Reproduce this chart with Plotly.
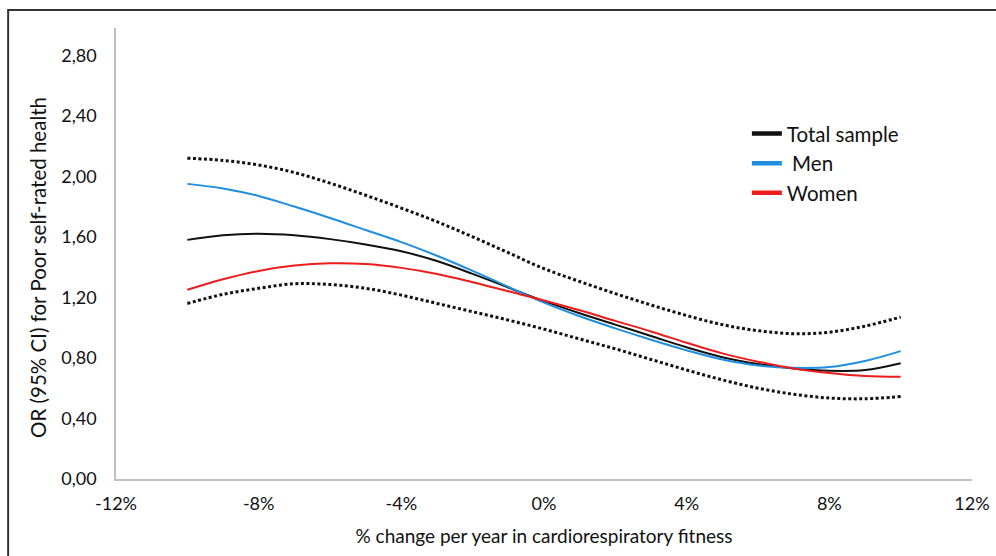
import plotly.graph_objects as go

x_pct = [-10, -9, -8, -7, -6, -5, -4, -3, -2, -1, 0, 1, 2, 3, 4, 5, 6, 7, 8, 9, 10]
ci_upper = [2.12, 2.105, 2.075, 2.025, 1.955, 1.875, 1.79, 1.70, 1.60, 1.495, 1.39, 1.305, 1.225, 1.15, 1.08, 1.02, 0.98, 0.96, 0.97, 1.01, 1.07]
ci_lower = [1.16, 1.22, 1.26, 1.29, 1.285, 1.26, 1.215, 1.16, 1.105, 1.05, 0.99, 0.925, 0.86, 0.79, 0.72, 0.655, 0.60, 0.56, 0.535, 0.53, 0.545]
total = [1.58, 1.61, 1.62, 1.61, 1.585, 1.55, 1.505, 1.44, 1.355, 1.265, 1.175, 1.095, 1.02, 0.945, 0.87, 0.805, 0.76, 0.73, 0.715, 0.72, 0.765]
men = [1.95, 1.92, 1.87, 1.80, 1.725, 1.645, 1.565, 1.475, 1.375, 1.27, 1.165, 1.075, 0.995, 0.92, 0.85, 0.79, 0.75, 0.735, 0.74, 0.78, 0.845]
women = [1.25, 1.32, 1.375, 1.41, 1.425, 1.42, 1.395, 1.355, 1.30, 1.24, 1.18, 1.115, 1.045, 0.975, 0.90, 0.83, 0.775, 0.73, 0.70, 0.68, 0.675]

series_names = ["Total sample", " Men", "Women"]
series_colors = ["#111111", "#1f8ee0", "#ee1c1c"]

x_ticks = [-12, -8, -4, 0, 4, 8, 12]
x_ticktext = ["-12%", "-8%", "-4%", "0%", "4%", "8%", "12%"]
y_ticks = [0, 0.4, 0.8, 1.2, 1.6, 2.0, 2.4, 2.8]
y_ticktext = ["0,00", "0,40", "0,80", "1,20", "1,60", "2,00", "2,40", "2,80"]

FONT = "Lato, 'Open Sans', sans-serif"

fig = go.Figure()
for ci in (ci_upper, ci_lower):
    fig.add_trace(go.Scatter(x=x_pct, y=ci, mode="lines", showlegend=False,
                             line=dict(color="#111111", width=3, dash="3px,2.5px", shape="spline")))
for ys, nm, col in zip((total, men, women), series_names, series_colors):
    fig.add_trace(go.Scatter(x=x_pct, y=ys, mode="lines", showlegend=False,
                             line=dict(color=col, width=2, shape="spline")))
# legend entries (thicker symbols as in the reference)
for nm, col in zip(series_names, series_colors):
    fig.add_trace(go.Scatter(x=[None], y=[None], mode="lines", name=nm,
                             line=dict(color=col, width=4.5)))

fig.update_layout(
    width=996, height=556,
    margin=dict(l=116, r=24, t=28, b=77),
    paper_bgcolor="white", plot_bgcolor="white",
    font=dict(family=FONT, size=18, color="#111111"),
    legend=dict(x=0.737, y=0.81, xanchor="left", yanchor="top",
                font=dict(size=20.5, color="#111111"), itemwidth=30,
                tracegroupgap=0, bgcolor="rgba(0,0,0,0)"),
    shapes=[dict(type="rect", xref="paper", yref="paper",
                 x0=-0.126, x1=1.1, y0=-0.2, y1=1.04,
                 line=dict(color="#333333", width=2), layer="below")],
    annotations=[dict(text="OR (95% CI) for Poor self-rated health", xref="paper", yref="paper",
                      x=-0.0911, y=0.468, xanchor="center", yanchor="middle", textangle=-90,
                      showarrow=False, font=dict(size=20.5, color="#111111"))],
)
fig.update_xaxes(range=[-12, 12], tickvals=x_ticks, ticktext=x_ticktext, automargin=False,
                 showgrid=False, zeroline=False, showline=True, linecolor="#bfbfbf", linewidth=1.5,
                 ticks="", tickfont=dict(size=18), ticklabelstandoff=8,
                 title=dict(text="% change per year in cardiorespiratory fitness", font=dict(size=19), standoff=16))
fig.update_yaxes(range=[0, 2.98], tickvals=y_ticks, ticktext=y_ticktext, automargin=False,
                 showgrid=False, zeroline=False, showline=True, linecolor="#bfbfbf", linewidth=1.5,
                 ticks="", tickfont=dict(size=18), ticklabelstandoff=14)

fig.write_html("out.html", config={"displayModeBar": False},
               post_script="document.body.style.margin='0';")
